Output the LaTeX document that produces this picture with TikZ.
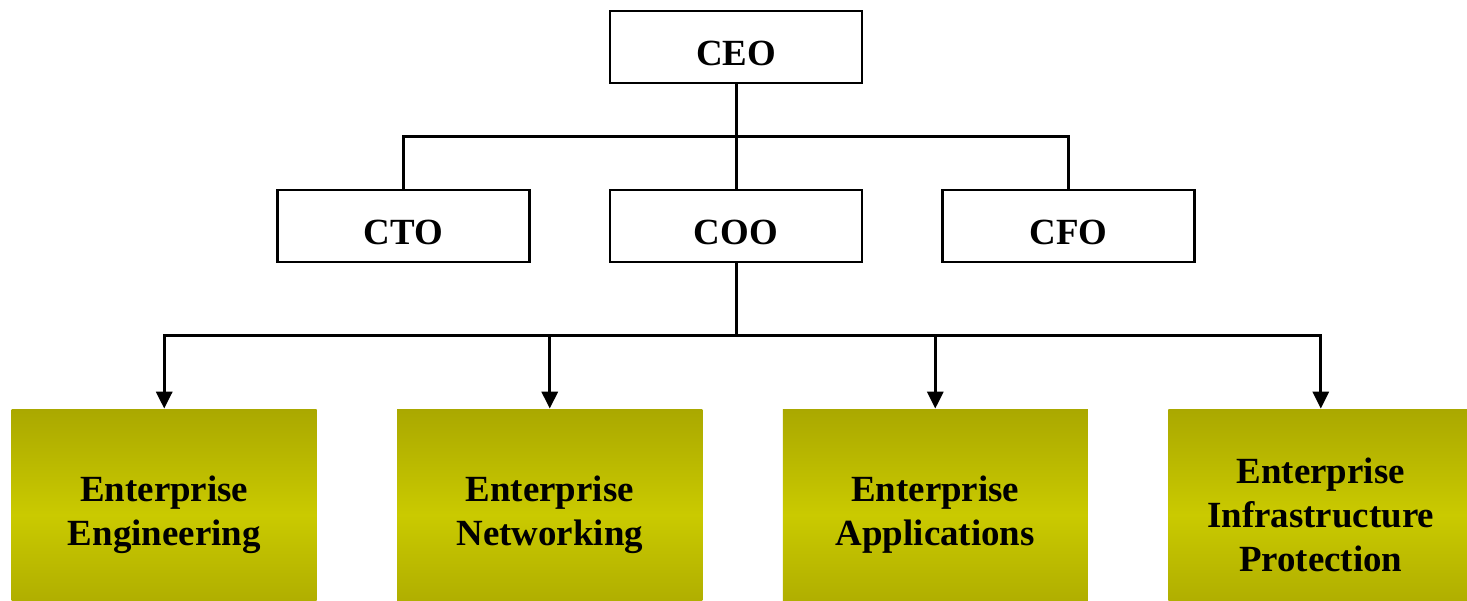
\documentclass[tikz,border=0pt]{standalone}
\usepackage{fontspec}
\setmainfont{Liberation Serif}
\usetikzlibrary{trees,calc,arrows.meta}

\definecolor{olivedark}{RGB}{170,168,0}
\definecolor{olivelight}{RGB}{202,202,0}

\begin{document}
\begin{tikzpicture}[level distance=3.58cm,
  level 1/.style = {sibling distance=6.65cm},
  level 2/.style = {sibling distance=7.71cm, level distance=5.78cm,
    edge from parent/.append style={-{Triangle[width=0.32cm,length=0.34cm]}}},
  edge from parent/.style = {draw, line width=0.06cm},
  edge from parent path = {(\tikzparentnode.south) |- ($(\tikzparentnode.south)!.5!(\tikzchildnode.north)$) -| (\tikzchildnode.north)},
  every node/.style = {font=\fontsize{21}{25}\selectfont\bfseries},
  head/.style = {shape=rectangle, draw, line width=0.05cm, fill=white,
    minimum width=5.04cm, minimum height=1.44cm, text height=20.6pt, text depth=0pt},
  unit/.style = {shape=rectangle, align=center, minimum width=6.1cm, minimum height=4.24cm, xshift=0.13cm,
    top color=olivedark, bottom color=olivedark, middle color=olivelight}]
  \useasboundingbox (-14.72,0.94) rectangle (14.62,-11.08);
  \node[head] (ceo) {CEO}
    child {node[head] (cto) {CTO}}
    child {node[head] (coo) {COO}
      child {node[unit] (eng) {Enterprise\\Engineering}}
      child {node[unit] (net) {Enterprise\\Networking}}
      child {node[unit] (app) {Enterprise\\Applications}}
      child {node[unit] (inf) {Enterprise\\Infrastructure\\Protection}}
    }
    child {node[head] (cfo) {CFO}};
\end{tikzpicture}
\end{document}
